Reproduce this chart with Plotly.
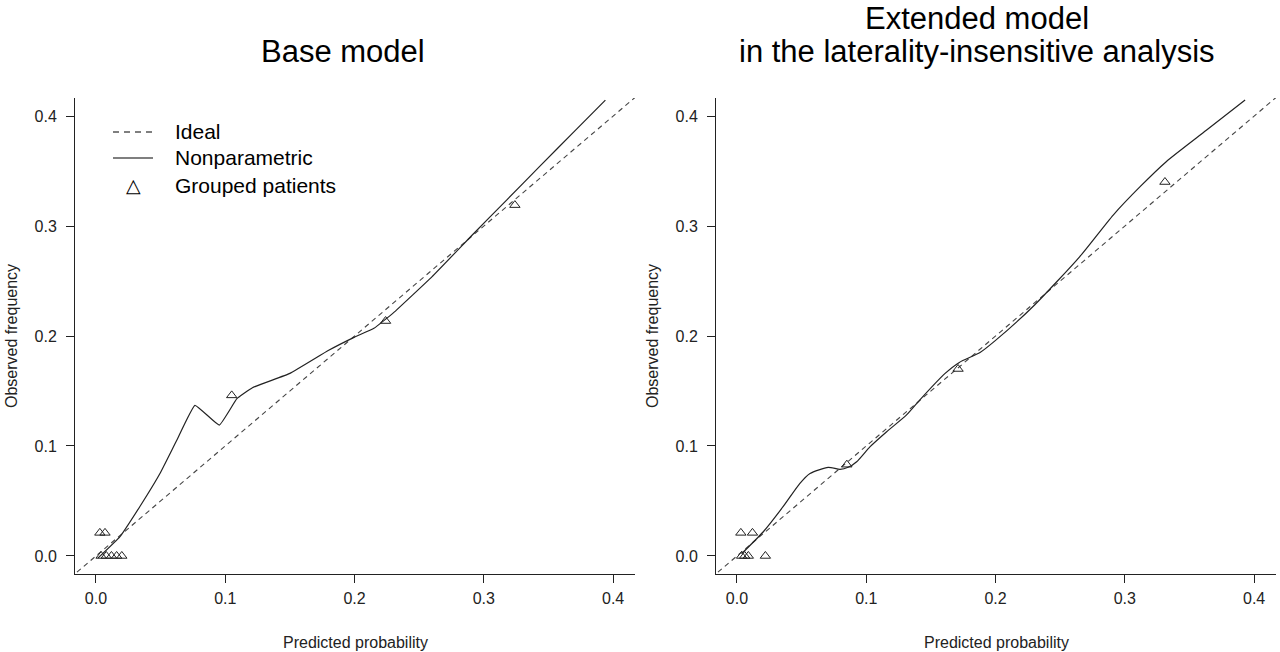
import plotly.graph_objects as go

# ideal diagonal
ideal_x = [-0.02, 0.42]
ideal_y = [-0.02, 0.42]

# base model - nonparametric calibration curve
base_curve_x = [0.0015, 0.0186, 0.034, 0.0495, 0.0624, 0.0766, 0.0954, 0.109, 0.121,
                0.15, 0.18, 0.2, 0.215, 0.23, 0.26, 0.292, 0.318, 0.343, 0.37, 0.394]
base_curve_y = [-0.002, 0.0176, 0.045, 0.075, 0.105, 0.137, 0.119, 0.143, 0.153,
                0.166, 0.187, 0.199, 0.207, 0.221, 0.254, 0.293, 0.324, 0.354, 0.386, 0.4145]

# base model - grouped patients
base_grp_x = [0.003, 0.007, 0.004, 0.008, 0.012, 0.016, 0.020, 0.105, 0.224, 0.324]
base_grp_y = [0.021, 0.021, 0.0, 0.0, 0.0, 0.0, 0.0, 0.146, 0.2136, 0.319]

# extended model - nonparametric calibration curve
ext_curve_x = [0.0036, 0.0204, 0.0358, 0.0487, 0.0565, 0.0706, 0.0797, 0.086, 0.0926,
               0.103, 0.1158, 0.131, 0.1415, 0.161, 0.172, 0.188, 0.2, 0.23, 0.265,
               0.291, 0.312, 0.332, 0.363, 0.393]
ext_curve_y = [0.002, 0.022, 0.045, 0.066, 0.075, 0.0806, 0.0788, 0.0806, 0.0857,
               0.0994, 0.113, 0.128, 0.142, 0.166, 0.176, 0.185, 0.196, 0.228, 0.272,
               0.31, 0.336, 0.3585, 0.387, 0.4145]

# extended model - grouped patients
ext_grp_x = [0.003, 0.012, 0.0036, 0.006, 0.0088, 0.022, 0.085, 0.171, 0.331]
ext_grp_y = [0.021, 0.021, 0.0, 0.0, 0.0, 0.0, 0.083, 0.17, 0.340]

ticks = [0.0, 0.1, 0.2, 0.3, 0.4]
tick_text = ["0.0", "0.1", "0.2", "0.3", "0.4"]

legend_labels = ["Ideal", "Nonparametric", "Grouped patients"]

FONT = "Liberation Sans, Arial, sans-serif"
INK = "#222222"
W, H = 1280, 652


def px(x):
    return x / W


def py(y):
    return 1 - y / H


fig = go.Figure()

panels = [
    ("x", "y", base_curve_x, base_curve_y, base_grp_x, base_grp_y, 0.3),
    ("x2", "y2", ext_curve_x, ext_curve_y, ext_grp_x, ext_grp_y, 0.6),
]
for xa, ya, cx, cy, gx, gy, smooth in panels:
    fig.add_trace(go.Scatter(x=ideal_x, y=ideal_y, mode="lines", name=legend_labels[0],
                             line=dict(color="#444444", width=1.1, dash="5px,4px"),
                             xaxis=xa, yaxis=ya, showlegend=False))
    fig.add_trace(go.Scatter(x=cx, y=cy, mode="lines", name=legend_labels[1],
                             line=dict(color=INK, width=1.2, shape="spline", smoothing=smooth),
                             xaxis=xa, yaxis=ya, showlegend=False))
    fig.add_trace(go.Scatter(x=gx, y=gy, mode="markers", name=legend_labels[2],
                             marker=dict(symbol="triangle-up-open", size=9, color=INK,
                                         line=dict(width=1, color=INK)),
                             xaxis=xa, yaxis=ya, showlegend=False))

xaxis_common = dict(
    range=[-0.0162, 0.4169], tickvals=ticks, ticktext=tick_text,
    showline=True, linecolor=INK, linewidth=1, ticks="outside", ticklen=8,
    tickcolor=INK, showgrid=False, zeroline=False, mirror=False, automargin=False,
    tickfont=dict(family=FONT, size=16, color=INK), ticklabelstandoff=2,
)
yaxis_common = dict(xaxis_common, range=[-0.0164, 0.4164], ticklabelstandoff=6)


def label(text, x, y, size, color=INK, angle=0, xanchor="center"):
    return dict(text=text, x=px(x), y=py(y), xref="paper", yref="paper",
                xanchor=xanchor, yanchor="middle", showarrow=False, textangle=angle,
                font=dict(size=size, color=color))


annotations = []
for cx_px, yt_px in [(355, 11), (996, 652)]:
    annotations.append(label("Predicted probability", cx_px, 642, 16))
    annotations.append(label("Observed frequency", yt_px, 336, 16, angle=-90))
annotations += [
    label("Base model", 343, 52, 31, "black"),
    label("Extended model", 977, 19, 31, "black"),
    label("in the laterality-insensitive analysis", 977, 52, 31, "black"),
]

# legend inside the left panel
leg_rows = [132, 158, 185]
for txt, ly in zip(legend_labels, leg_rows):
    annotations.append(label(txt, 173, ly, 21, "black", xanchor="left"))
annotations.append(label("\u25b3", 133, leg_rows[2], 19, "black"))
shapes = [
    dict(type="line", xref="paper", yref="paper", x0=px(113), x1=px(153),
         y0=py(leg_rows[0]), y1=py(leg_rows[0]),
         line=dict(color="black", width=1.1, dash="6px,5px")),
    dict(type="line", xref="paper", yref="paper", x0=px(113), x1=px(153),
         y0=py(leg_rows[1]), y1=py(leg_rows[1]),
         line=dict(color="black", width=1.2)),
]

fig.update_layout(
    width=W, height=H,
    margin=dict(l=0, r=0, t=0, b=0),
    paper_bgcolor="white", plot_bgcolor="white",
    font=dict(family=FONT, color=INK),
    xaxis=dict(xaxis_common, domain=[px(75), px(635)], anchor="y"),
    yaxis=dict(yaxis_common, domain=[py(574), py(98)], anchor="x"),
    xaxis2=dict(xaxis_common, domain=[px(716), px(1276)], anchor="y2"),
    yaxis2=dict(yaxis_common, domain=[py(574), py(98)], anchor="x2"),
    showlegend=False,
    annotations=annotations,
    shapes=shapes,
)

# drop the default page margin so the figure fills the window exactly
fig.write_html("out.html", config={"displayModeBar": False},
               post_script="document.body.style.margin='0px';")
